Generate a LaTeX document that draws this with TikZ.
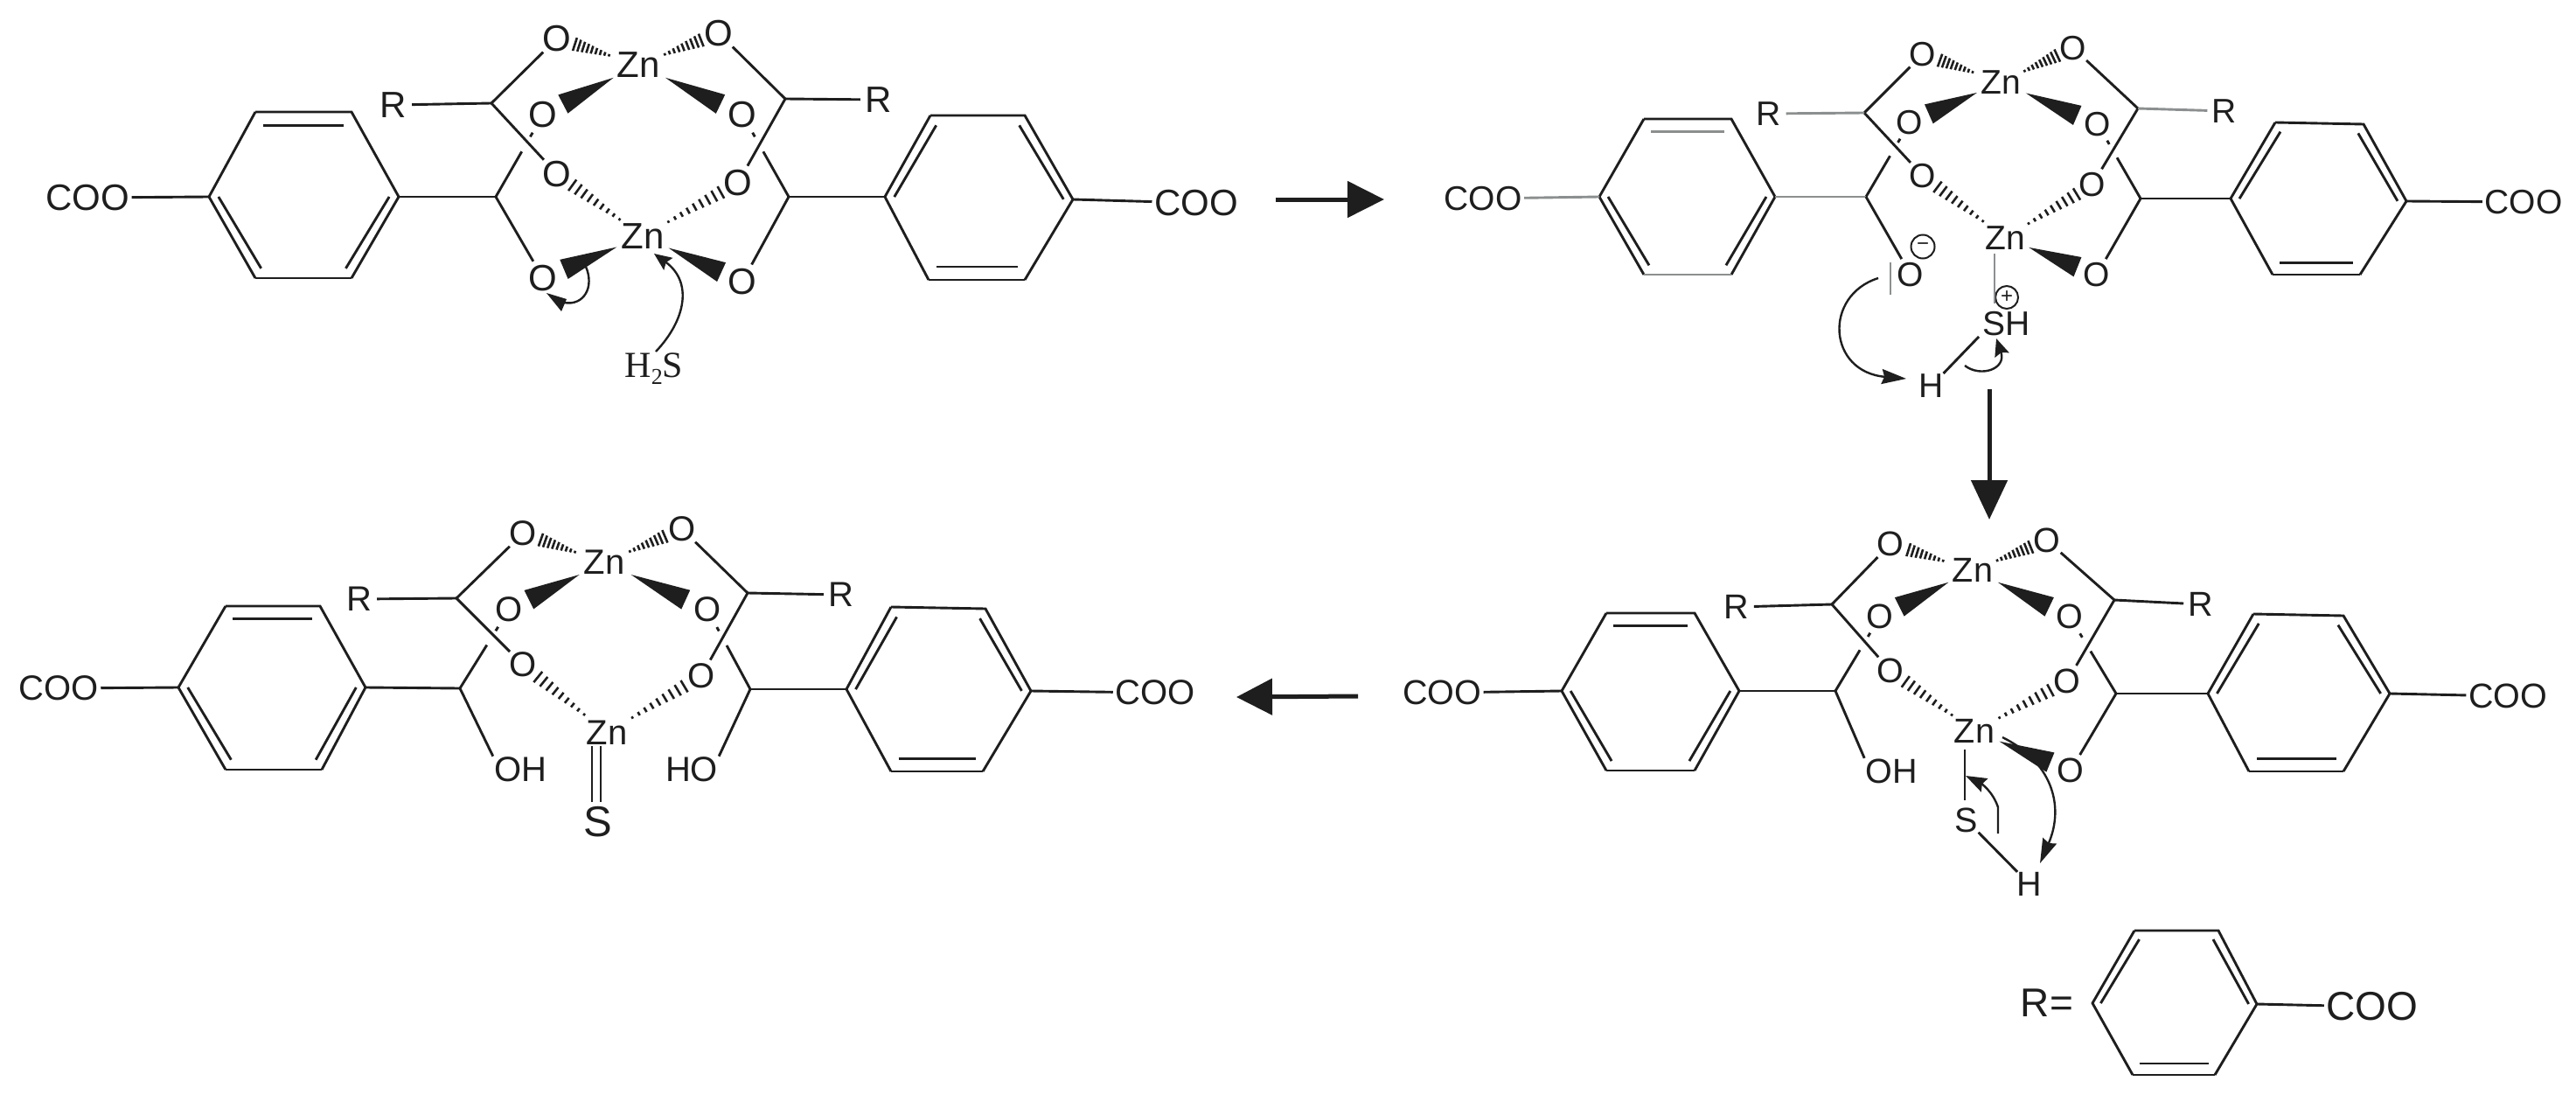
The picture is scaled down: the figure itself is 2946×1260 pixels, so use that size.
\documentclass[tikz,border=0pt]{standalone}
\usepackage{fontspec}
\setmainfont{Liberation Sans}
\newfontfamily\serifatom{Liberation Serif}
\usetikzlibrary{calc,arrows.meta}
\definecolor{ink}{HTML}{1E1E1E}
\definecolor{paleink}{HTML}{8C8F8F}
\def\fs{42}
\tikzset{
  bond/.style={draw=ink,line width=2.9pt},
  pale/.style={draw=paleink},
  rb/.style={},
  cb/.style={},
  hashline/.style={draw=ink,line width=2.6pt},
  wedgefill/.style={fill=ink},
  atomnode/.style={circle,inner sep=0pt,text=ink,font=\fontsize{\fs}{\fs}\selectfont},
  groupnode/.style={rectangle,inner sep=2.5pt,text=ink,font=\fontsize{\fs}{\fs}\selectfont},
  curly/.style={draw=ink,line width=2.4pt},
  curlytip/.style={curly,-{Stealth[length=#1,width=17pt,inset=3pt]}},
  bigarrow/.style={draw=ink,line width=5pt,-{Triangle[length=#1,width=41pt]}},
  chargenode/.style={circle,draw=ink,line width=2pt,minimum size=27pt,inner sep=0pt,text=ink,font=\fontsize{24}{24}\selectfont}
}
\newcommand{\atom}[3]{\node[atomnode] (#1) at (#2) {#3};}
\newcommand{\grp}[3]{\node[groupnode] (#1) at (#2) {#3};}
\newcommand{\benzCoords}[7]{%
  \coordinate (#1-tl) at (#2); \coordinate (#1-tr) at (#3);
  \coordinate (#1-r) at (#4); \coordinate (#1-br) at (#5);
  \coordinate (#1-bl) at (#6); \coordinate (#1-l) at (#7);
  \coordinate (#1-c) at ($(#1-l)!.5!(#1-r)$);
  \draw[bond] (#1-tl) -- (#1-tr) -- (#1-r);
  \draw[bond] (#1-br) -- (#1-r);
  \draw[bond] (#1-bl) -- (#1-l) -- (#1-tl);
}
% left-hand type ring: double bonds at top, lower right, lower left
\newcommand{\benzL}[8][]{%
  \benzCoords{#2}{#3}{#4}{#5}{#6}{#7}{#8}
  \draw[bond,#1] (#2-br) -- (#2-bl);
  \draw[bond,#1] ($(#2-tl)!.16!(#2-c)$) -- ($(#2-tr)!.16!(#2-c)$);
  \draw[bond] ($(#2-r)!.10!(#2-c)$) -- ($(#2-br)!.12!(#2-c)$);
  \draw[bond] ($(#2-l)!.10!(#2-c)$) -- ($(#2-bl)!.12!(#2-c)$);
}
% right-hand type ring: double bonds at upper left, upper right, bottom
\newcommand{\benzR}[8][]{%
  \benzCoords{#2}{#3}{#4}{#5}{#6}{#7}{#8}
  \draw[bond,#1] (#2-br) -- (#2-bl);
  \draw[bond] ($(#2-l)!.10!(#2-c)$) -- ($(#2-tl)!.12!(#2-c)$);
  \draw[bond] ($(#2-r)!.10!(#2-c)$) -- ($(#2-tr)!.12!(#2-c)$);
  \draw[bond] ($(#2-bl)!.16!(#2-c)$) -- ($(#2-br)!.16!(#2-c)$);
}
\newcommand{\wedgeB}[2]{%
  \fill[wedgefill] ($(#1)!.26!(#2)$) -- ($(#1)!.79!(#2)!12pt!90:(#2)$) -- ($(#1)!.79!(#2)!12pt!-90:(#2)$) -- cycle;
}
\newcommand{\hashB}[4]{%
  \foreach \i in {0,...,8}{%
    \pgfmathsetmacro\hf{#3+(#4-#3)*\i/8}%
    \pgfmathsetmacro\hl{1.4+\i*0.8}%
    \draw[hashline] ($(#1)!\hf!(#2)!\hl pt!90:(#2)$) -- ($(#1)!\hf!(#2)!\hl pt!-90:(#2)$);
  }%
}
\newcommand{\brokenB}[2]{%
  \draw[bond] ($(#1)!.22!(#2)$) -- ($(#1)!.27!(#2)$);
  \draw[bond] ($(#1)!.45!(#2)$) -- (#2);
}
% bonds shared by every copy of the paddle-wheel core
\newcommand{\coreBonds}[1]{%
  \draw[bond] (#1-CUL) -- (#1-OTL);
  \draw[bond] (#1-CUR) -- (#1-OTR);
  \draw[bond] (#1-CUL) -- (#1-OiLL);
  \draw[bond] (#1-CUR) -- (#1-OiLR);
  \brokenB{#1-OiUL}{#1-CLL}
  \brokenB{#1-OiUR}{#1-CLR}
  \draw[bond,rb] (#1-RL) -- (#1-CUL);
  \draw[bond,rb] (#1-CUR) -- (#1-RR);
  \draw[bond,cb] (#1-CLL) -- (#1-A-r);
  \draw[bond] (#1-CLR) -- (#1-B-l);
  \draw[bond,cb] (#1-COOL) -- (#1-A-l);
  \draw[bond] (#1-B-r) -- (#1-COOR);
  \hashB{#1-ZnT}{#1-OTL}{.36}{.78}
  \hashB{#1-ZnT}{#1-OTR}{.33}{.78}
  \hashB{#1-ZnB}{#1-OiLL}{.27}{.82}
  \hashB{#1-ZnB}{#1-OiLR}{.27}{.82}
  \wedgeB{#1-ZnT}{#1-OiUL}
  \wedgeB{#1-ZnT}{#1-OiUR}
}
\begin{document}
\begin{tikzpicture}[x=1pt,y=-1pt]
\useasboundingbox (0,0) rectangle (2946,1260);

% ---------- panel 1 ----------
\begin{scope}
\def\fs{42}
\atom{a-ZnT}{730,74}{Zn}
\atom{a-ZnB}{735,270}{Zn}
\atom{a-OTL}{637,44}{O}
\atom{a-OTR}{822,38}{O}
\atom{a-OiUL}{621,131}{O}
\atom{a-OiUR}{849,131}{O}
\atom{a-OiLL}{637,199}{O}
\atom{a-OiLR}{844,209}{O}
\atom{a-OBL}{621,318}{O}
\atom{a-OBR}{849,322}{O}
\atom{a-RL}{450,120}{R}
\atom{a-RR}{1005,114}{R}
\coordinate (a-CUL) at (562,118);
\coordinate (a-CUR) at (898,113);
\coordinate (a-CLL) at (567,225);
\coordinate (a-CLR) at (902,225);
\grp{a-COOL}{100,226}{COO}
\grp{a-COOR}{1368,232}{COO}
\benzL{a-A}{292,128}{402,128}{456,225}{402,318}{292,318}{239,225}
\benzR{a-B}{1064,132}{1172,132}{1227,228}{1172,320}{1062,320}{1012,225}
\coreBonds{a}
\draw[bond] (a-CLL) -- (a-OBL);
\draw[bond] (a-CLR) -- (a-OBR);
\wedgeB{a-ZnB}{a-OBL}
\wedgeB{a-ZnB}{a-OBR}
\node[text=ink,inner sep=0pt,font=\serifatom\fontsize{42}{42}\selectfont] (a-H2S) at (748,422) {H\raisebox{-8pt}{\fontsize{26}{26}\selectfont 2}S};
\coordinate (a-h2sTail) at (750,402);
\coordinate (a-h2sTip) at (748,290);
\draw[curlytip=20pt] (a-h2sTail) .. controls (785,365) and (792,322) .. (a-h2sTip);
\coordinate (a-oTail) at (670,305);
\coordinate (a-oEnd) at (645,346);
\draw[curly] (a-oTail) .. controls (680,328) and (668,350) .. (a-oEnd);
\fill[wedgefill] (625,335) -- (648,342) -- (642,356) -- cycle;
\end{scope}

% ---------- panel 2 ----------
\begin{scope}[rb/.style={pale},cb/.style={pale}]
\def\fs{39}
\atom{b-ZnT}{2288,94}{Zn}
\atom{b-ZnB}{2293,272}{Zn}
\atom{b-OTL}{2199,62}{O}
\atom{b-OTR}{2371,55}{O}
\atom{b-OiUL}{2184,140}{O}
\atom{b-OiUR}{2399,142}{O}
\atom{b-OiLL}{2199,201}{O}
\atom{b-OiLR}{2393,211}{O}
\atom{b-OBL}{2185,314}{O}
\atom{b-OBR}{2398,314}{O}
\atom{b-RL}{2023,130}{R}
\atom{b-RR}{2544,127}{R}
\coordinate (b-CUL) at (2132,129);
\coordinate (b-CUR) at (2445,124);
\coordinate (b-CLL) at (2134,225);
\coordinate (b-CLR) at (2448,227);
\grp{b-COOL}{1696,227}{COO}
\grp{b-COOR}{2886,231}{COO}
\benzL[pale]{b-A}{1880,136}{1980,136}{2030,225}{1980,314}{1880,314}{1829,225}
\benzR{b-B}{2602,140}{2703,142}{2752,230}{2699,314}{2599,314}{2551,227}
\coreBonds{b}
\draw[bond] (b-CLL) -- (b-OBL);
\draw[bond] (b-CLR) -- (b-OBR);
\wedgeB{b-ZnB}{b-OBR}
\node[chargenode] (b-minus) at (2199,282) {−};
\coordinate (b-barT) at (2162,300);
\coordinate (b-barB) at (2162,337);
\draw[bond,pale] (b-barT) -- (b-barB);
\node[groupnode,inner sep=0pt] (b-SH) at (2295,370) {SH};
\node[chargenode,minimum size=26pt] (b-plus) at (2295,340) {+};
\atom{b-H}{2209,441}{H}
\coordinate (b-ZnS1) at (2281,290);
\coordinate (b-ZnS2) at (2281,347);
\draw[bond,pale] (b-ZnS1) -- (b-ZnS2);
\coordinate (b-Send) at (2263,385);
\draw[bond] (b-Send) -- (b-H);
\coordinate (b-c1s) at (2148,318);
\coordinate (b-c1e) at (2180,433);
\draw[curly,-{Stealth[length=28pt,width=17pt,inset=3pt]}] (b-c1s) .. controls (2085,338) and (2090,425) .. (b-c1e);
\coordinate (b-c2s) at (2247,418);
\coordinate (b-c2e) at (2283,387);
\draw[curlytip=20pt] (b-c2s) .. controls (2265,432) and (2295,422) .. (b-c2e);
\end{scope}

% ---------- panel 3 ----------
\begin{scope}
\def\fs{40}
\atom{c-ZnT}{691,643}{Zn}
\atom{c-ZnB}{694,838}{Zn}
\atom{c-OTL}{598,610}{O}
\atom{c-OTR}{780,605}{O}
\atom{c-OiUL}{582,697}{O}
\atom{c-OiUR}{809,697}{O}
\atom{c-OiLL}{598,760}{O}
\atom{c-OiLR}{802,773}{O}
\atom{c-RL}{411,685}{R}
\atom{c-RR}{962,680}{R}
\coordinate (c-CUL) at (522,684);
\coordinate (c-CUR) at (855,678);
\coordinate (c-CLL) at (526,787);
\coordinate (c-CLR) at (858,788);
\grp{c-COOL}{67,787}{COO}
\grp{c-COOR}{1321,792}{COO}
\benzL{c-A}{258,693}{366,693}{418,786}{368,880}{258,880}{204,786}
\benzR{c-B}{1019,694}{1127,696}{1179,790}{1124,882}{1019,882}{968,788}
\coreBonds{c}
\node[groupnode,inner sep=1pt] (c-OH) at (595,880) {OH};
\node[groupnode,inner sep=1pt] (c-HO) at (791,880) {HO};
\draw[bond] (c-CLL) -- (c-OH.north west);
\draw[bond] (c-CLR) -- (c-HO.north east);
\node[atomnode,font=\fontsize{49}{49}\selectfont] (c-S) at (684,940) {S};
\coordinate (c-d1a) at (677,853);
\coordinate (c-d1b) at (677,917);
\coordinate (c-d2a) at (687,853);
\coordinate (c-d2b) at (687,917);
\draw[bond] (c-d1a) -- (c-d1b);
\draw[bond] (c-d2a) -- (c-d2b);
\end{scope}

% ---------- panel 4 ----------
\begin{scope}
\def\fs{39.5}
\atom{d-ZnT}{2256,652}{Zn}
\atom{d-ZnB}{2258,836}{Zn}
\atom{d-OTL}{2162,622}{O}
\atom{d-OTR}{2341,618}{O}
\atom{d-OiUL}{2150,705}{O}
\atom{d-OiUR}{2367,705}{O}
\atom{d-OiLL}{2162,767}{O}
\atom{d-OiLR}{2364,779}{O}
\atom{d-OBR}{2368,881}{O}
\atom{d-RL}{1986,694}{R}
\atom{d-RR}{2517,691}{R}
\coordinate (d-CUL) at (2095,691);
\coordinate (d-CUR) at (2418,686);
\coordinate (d-CLL) at (2099,790);
\coordinate (d-CLR) at (2420,793);
\grp{d-COOL}{1649,792}{COO}
\grp{d-COOR}{2868,796}{COO}
\benzL{d-A}{1837,701}{1938,701}{1989,790}{1938,881}{1837,881}{1786,790}
\benzR{d-B}{2577,702}{2680,704}{2733,793}{2680,882}{2572,882}{2525,793}
\coreBonds{d}
\draw[bond] (d-CLR) -- (d-OBR);
\wedgeB{d-ZnB}{d-OBR}
\node[groupnode,inner sep=1pt] (d-OH) at (2163,882) {OH};
\draw[bond] (d-CLL) -- (d-OH.north west);
\atom{d-S}{2249,938}{S}
\atom{d-H}{2321,1011}{H}
\coordinate (d-ZS1) at (2247,857);
\coordinate (d-ZS2) at (2247,915);
\draw[bond] (d-ZS1) -- (d-ZS2);
\draw[bond] (d-S) -- (d-H);
\coordinate (d-c1s) at (2285,953);
\coordinate (d-c1m) at (2285,923);
\coordinate (d-c1e) at (2248,887);
\draw[curlytip=24pt] (d-c1s) -- (d-c1m) .. controls (2279,905) and (2266,896) .. (d-c1e);
\coordinate (d-c2s) at (2290,843);
\coordinate (d-c2e) at (2333,987);
\draw[curly,-{Stealth[length=28pt,width=17pt,inset=3pt]}] (d-c2s) .. controls (2345,870) and (2362,920) .. (d-c2e);
\end{scope}

% ---------- R = legend ----------
\begin{scope}
\def\fs{46}
\node[groupnode,inner sep=0pt] (e-R) at (2341,1147) {R=};
\grp{e-COO}{2713,1151}{COO}
\benzR{e-B}{2441,1064}{2537,1064}{2581,1148}{2533,1229}{2439,1229}{2393,1147}
\draw[bond] (e-B-r) -- (e-COO);
\end{scope}

% ---------- reaction arrows ----------
\coordinate (r1a) at (1459,228);
\coordinate (r1b) at (1583,228);
\draw[bigarrow=42pt] (r1a) -- (r1b);
\coordinate (r2a) at (2275,445);
\coordinate (r2b) at (2275,594);
\draw[bigarrow=45pt] (r2a) -- (r2b);
\coordinate (r3a) at (1553,796);
\coordinate (r3b) at (1414,797);
\draw[bigarrow=41pt] (r3a) -- (r3b);
\end{tikzpicture}
\end{document}
